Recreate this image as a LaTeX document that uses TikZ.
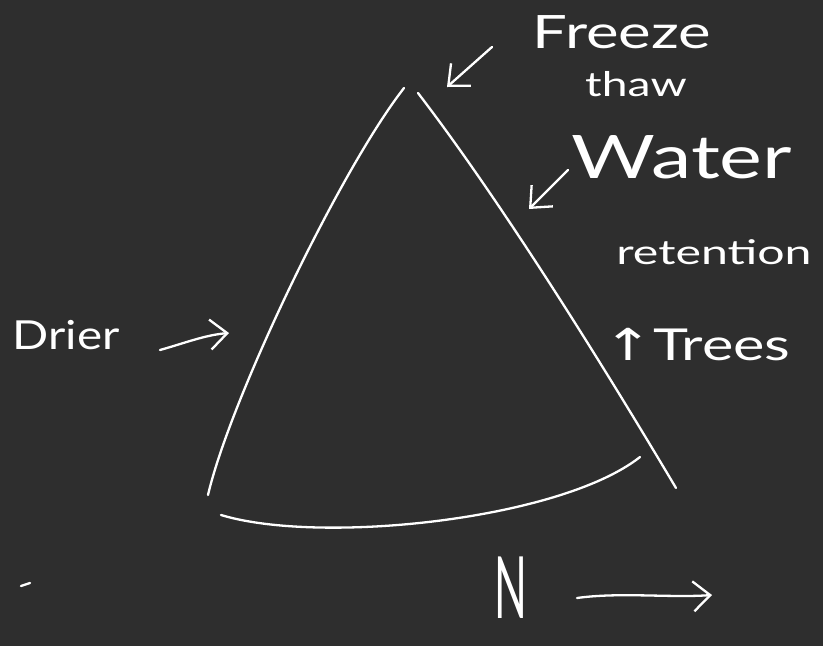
\documentclass[tikz,border=0pt]{standalone}
\usepackage{fontspec}
\setmainfont{Lato}
\newfontfamily\symfont{DejaVu Sans}
\usetikzlibrary{arrows.meta}
\definecolor{boardbg}{RGB}{46,46,46}
\begin{document}
\begin{tikzpicture}[x=1pt,y=-1pt,
  chalk/.style={draw=white,line width=2.3pt,line cap=round,line join=round},
  pointer/.style={chalk,-{Straight Barb[length=17pt,width=30pt,line width=2.3pt]}},
  label/.style={text=white,inner sep=0pt,anchor=center}]
\fill[boardbg] (0,0) rectangle (823,646);
\useasboundingbox (0,0) rectangle (823,646);
% triangle corners
\coordinate (apexL) at (404,88);
\coordinate (apexR) at (418,93);
\coordinate (baseL) at (208,495);
\coordinate (baseR) at (676,488);
\coordinate (bottomS) at (221,515);
\coordinate (bottomE) at (640,457);
\draw[chalk] (apexL) .. controls (340,170) and (230,400) .. (baseL);
\draw[chalk] (apexR) .. controls (500,200) and (600,360) .. (baseR);
\draw[chalk] (bottomS) .. controls (320,545) and (560,520) .. (bottomE);
% labels
\node[label,font=\fontsize{46}{46}\selectfont,xscale=1.34] (freeze) at (622,32) {Freeze};
\node[label,font=\fontsize{34}{34}\selectfont,xscale=1.36] (thaw) at (636,84) {thaw};
\node[label,font=\fontsize{60}{60}\selectfont,xscale=1.35] (water) at (682,157) {Water};
\node[label,font=\fontsize{34}{34}\selectfont,xscale=1.42] (retention) at (714,252) {retention};
\node[label,font=\fontsize{44}{44}\selectfont,xscale=1.35] (trees) at (697,345) {{\symfont ↑}Trees};
\node[label,font=\fontsize{40}{40}\selectfont,xscale=1.19] (drier) at (66,335) {Drier};
\node[label,font=\fontsize{86}{86}\selectfont,xscale=0.5] (north) at (511,588) {N};
% pointer anchors
\coordinate (fzS) at (492,47);  \coordinate (fzE) at (447,87);
\coordinate (wtS) at (568,170); \coordinate (wtE) at (529,209);
\coordinate (drS) at (160,350); \coordinate (drE) at (229,333);
\coordinate (nS) at (577,598);  \coordinate (nE) at (712,595);
\draw[pointer] (fzS) -- (fzE);
\draw[pointer] (wtS) -- (wtE);
\draw[pointer] (drS) .. controls (185,343) and (205,335) .. (drE);
\draw[pointer] (nS) .. controls (620,592) and (670,598) .. (nE);
% stray mark
\coordinate (dashS) at (21,586); \coordinate (dashE) at (30,583);
\draw[chalk] (dashS) -- (dashE);
\end{tikzpicture}
\end{document}
